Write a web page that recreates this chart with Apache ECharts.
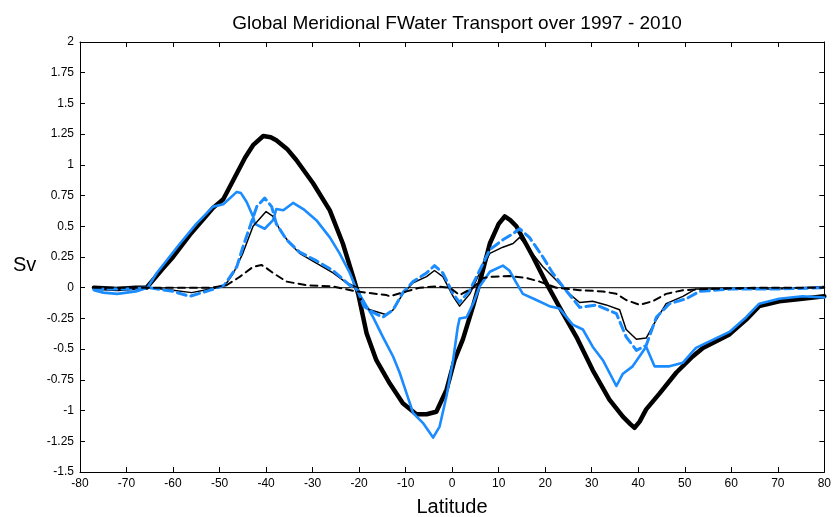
<!DOCTYPE html>
<html>
<head>
<meta charset="utf-8">
<script src="https://cdn.jsdelivr.net/npm/echarts@6/dist/echarts.min.js"></script>
<style>html,body{margin:0;padding:0;background:#fff}#c{width:834px;height:517px}</style>
</head>
<body>
<div id="c"></div>
<script>
const titleText = 'Global Meridional FWater Transport over 1997 - 2010';
const xLabel = 'Latitude';
const yLabel = 'Sv';

const thickBlack = [[-77,0],[-72,-0.01],[-68,0],[-65.7,0],[-62.1,0.16],[-60,0.25],[-56.4,0.43],[-53,0.58],[-51.4,0.65],[-49.2,0.72],[-46.3,0.93],[-44.5,1.06],[-42.8,1.16],[-40.6,1.235],[-39,1.225],[-37.8,1.20],[-35.5,1.13],[-33.5,1.04],[-29.9,0.85],[-26.3,0.63],[-23.5,0.36],[-21.3,0.09],[-20.2,-0.05],[-18.4,-0.37],[-16.3,-0.59],[-13.4,-0.78],[-10.6,-0.94],[-7.7,-1.03],[-5.5,-1.03],[-3.4,-1.01],[-1.2,-0.83],[0.5,-0.59],[2.3,-0.42],[4.5,-0.15],[5.9,0.04],[8.1,0.36],[10,0.52],[11.3,0.58],[12.5,0.55],[13.8,0.50],[17.4,0.25],[20.2,0.04],[23.1,-0.16],[26.7,-0.40],[30.2,-0.67],[33.8,-0.91],[36.7,-1.05],[38.3,-1.11],[39.2,-1.14],[40.3,-1.09],[41.7,-0.99],[44.6,-0.86],[48.2,-0.69],[51.7,-0.56],[53.9,-0.49],[59.6,-0.38],[63.2,-0.26],[66,-0.15],[70.3,-0.11],[75.3,-0.09],[80,-0.07]];

const blueSolid = [[-77,-0.02],[-75,-0.04],[-72,-0.05],[-68,-0.03],[-65.5,0],[-63.5,0.12],[-58.5,0.36],[-55,0.52],[-51.4,0.66],[-49.2,0.68],[-46.3,0.78],[-45.4,0.77],[-44.2,0.70],[-42.8,0.58],[-42.4,0.52],[-40.3,0.48],[-38.5,0.55],[-37.8,0.64],[-36.3,0.63],[-34.2,0.69],[-32,0.64],[-29.2,0.55],[-26.3,0.41],[-24.2,0.28],[-22,0.12],[-20.6,-0.01],[-17,-0.24],[-14.9,-0.40],[-12.7,-0.56],[-11.3,-0.69],[-9.8,-0.86],[-8.4,-1.02],[-6.3,-1.10],[-4.1,-1.22],[-2.7,-1.13],[-1.2,-0.88],[0.2,-0.59],[1.2,-0.32],[1.6,-0.25],[3.1,-0.24],[4.5,-0.13],[5.9,0.01],[8.1,0.13],[10.9,0.18],[12.3,0.14],[13.8,0.04],[15.2,-0.05],[18.1,-0.10],[20.9,-0.15],[23.1,-0.17],[25.9,-0.30],[28.1,-0.34],[30.2,-0.48],[32.4,-0.59],[35.3,-0.80],[36.7,-0.70],[38.8,-0.64],[41.7,-0.48],[43.5,-0.64],[46.7,-0.64],[49.6,-0.61],[52.4,-0.49],[59.6,-0.36],[63.2,-0.24],[66,-0.13],[70.3,-0.09],[75.3,-0.07],[80,-0.08]];

const thinBlack = [[-77,0],[-70,-0.01],[-65,0],[-60,-0.02],[-56,-0.04],[-52,-0.01],[-49,0.01],[-47,0.12],[-45,0.28],[-42.8,0.50],[-40,0.62],[-38.5,0.58],[-37,0.47],[-34.9,0.36],[-32.8,0.28],[-29.2,0.20],[-25.6,0.12],[-22.7,0.04],[-20.3,0],[-19.2,-0.14],[-17.7,-0.18],[-14.1,-0.22],[-12.7,-0.18],[-10.6,-0.05],[-8.4,0.04],[-5.5,0.09],[-3.8,0.14],[-2,0.09],[0.2,-0.07],[1.6,-0.15],[3.8,-0.05],[5.9,0.12],[7.3,0.22],[8.1,0.28],[10.9,0.33],[13.1,0.36],[14.5,0.41],[16.6,0.31],[19.5,0.17],[22.4,0.06],[25.2,-0.05],[27.4,-0.12],[30.2,-0.11],[33.1,-0.14],[36,-0.18],[37.4,-0.34],[39.6,-0.42],[41.7,-0.41],[43.9,-0.26],[46,-0.13],[49.6,-0.07],[52.4,-0.01],[60,-0.01],[70,-0.01],[80,0.01]];

const blueDashed = [[-77,-0.01],[-70,-0.01],[-65,0],[-60,-0.03],[-56.4,-0.07],[-52,-0.02],[-49,0.02],[-46.3,0.17],[-45,0.33],[-42,0.66],[-40.3,0.73],[-38.8,0.66],[-37.8,0.52],[-35.6,0.39],[-32.8,0.29],[-29.2,0.22],[-25.6,0.14],[-22,0.02],[-20.3,-0.02],[-19,-0.15],[-17,-0.20],[-14.9,-0.24],[-12.7,-0.18],[-10.6,-0.04],[-8.4,0.05],[-5.5,0.12],[-3.8,0.18],[-2,0.12],[0.2,-0.05],[1.6,-0.12],[3.8,-0.02],[5.9,0.14],[8.1,0.31],[10.9,0.39],[13.1,0.44],[14.5,0.48],[16.6,0.41],[19.5,0.25],[21.6,0.12],[23.8,0.01],[27.4,-0.16],[31,-0.14],[35.3,-0.21],[37.4,-0.40],[39.6,-0.51],[41.7,-0.47],[43.9,-0.24],[46.7,-0.13],[50.3,-0.09],[53.2,-0.03],[60,-0.01],[70,-0.01],[80,0]];

const blackDashed = [[-77,0],[-65,0],[-55,0],[-52,0],[-48.5,0.02],[-45.6,0.09],[-42.8,0.17],[-41,0.185],[-40.3,0.17],[-38.5,0.12],[-35.6,0.05],[-31.3,0.02],[-25.6,0.01],[-20.6,-0.03],[-14.1,-0.06],[-13.4,-0.07],[-9.8,-0.03],[-7,0],[-3.4,0.01],[-0.5,0],[1.6,-0.06],[4.5,0],[6.6,0.08],[8.8,0.09],[12.3,0.095],[15.9,0.08],[18.8,0.05],[22.4,0],[27.4,-0.02],[32.4,-0.03],[35.3,-0.05],[37.4,-0.10],[40.3,-0.14],[43.1,-0.11],[46,-0.05],[49.6,-0.02],[55,-0.01],[65,0],[80,0]];

const zeroLine = [[-76.5,0],[80,0]];

const FONT = 'Liberation Sans';
const chart = echarts.init(document.getElementById('c'), null, {renderer:'canvas'});
const axisCommon = {
  axisLine:{show:true,onZero:false,lineStyle:{color:'#000',width:1}},
  axisTick:{show:true,inside:true,length:5,lineStyle:{color:'#000'}},
  splitLine:{show:false}
};
function ln(data,color,width,type,z){
  return {type:'line',data:data,showSymbol:false,symbol:'none',smooth:false,z:z,
    lineStyle:{color:color,width:width,type:type,cap:'round',join:'round'},animation:false};
}
chart.setOption({
  backgroundColor:'#fff',
  animation:false,
  title:{text:titleText,left:452,top:9,textAlign:'center',
    textStyle:{fontFamily:FONT,fontSize:19,fontWeight:'normal',color:'#000'}},
  grid:{left:80,right:9,top:42,bottom:45,containLabel:false},
  xAxis:[
    Object.assign({type:'value',min:-80,max:80,interval:10,position:'bottom',
      axisLabel:{color:'#000',fontFamily:FONT,fontSize:12,margin:6}},axisCommon),
    Object.assign({type:'value',min:-80,max:80,interval:10,position:'top',
      axisLabel:{show:false}},axisCommon)
  ],
  yAxis:[
    Object.assign({type:'value',min:-1.5,max:2,interval:0.25,position:'left',
      axisLabel:{color:'#000',fontFamily:FONT,fontSize:12,margin:6}},axisCommon),
    Object.assign({type:'value',min:-1.5,max:2,interval:0.25,position:'right',
      axisLabel:{show:false}},axisCommon)
  ],
  graphic:[
    {type:'text',x:452,y:497,style:{text:xLabel,fontFamily:FONT,fontSize:20,fill:'#000',textAlign:'center'}},
    {type:'text',x:13,y:255,style:{text:yLabel,fontFamily:FONT,fontSize:20,fill:'#000'}}
  ],
  series:[
    ln(zeroLine,'#000',1,'solid',1),
    ln(thickBlack,'#000',4.5,'solid',2),
    ln(blueSolid,'#1a8cff',2.6,'solid',3),
    ln(thinBlack,'#000',1.5,'solid',4),
    ln(blueDashed,'#1a8cff',3,[9,5],5),
    ln(blackDashed,'#000',2,[7,5],6)
  ]
});
</script>
</body>
</html>
